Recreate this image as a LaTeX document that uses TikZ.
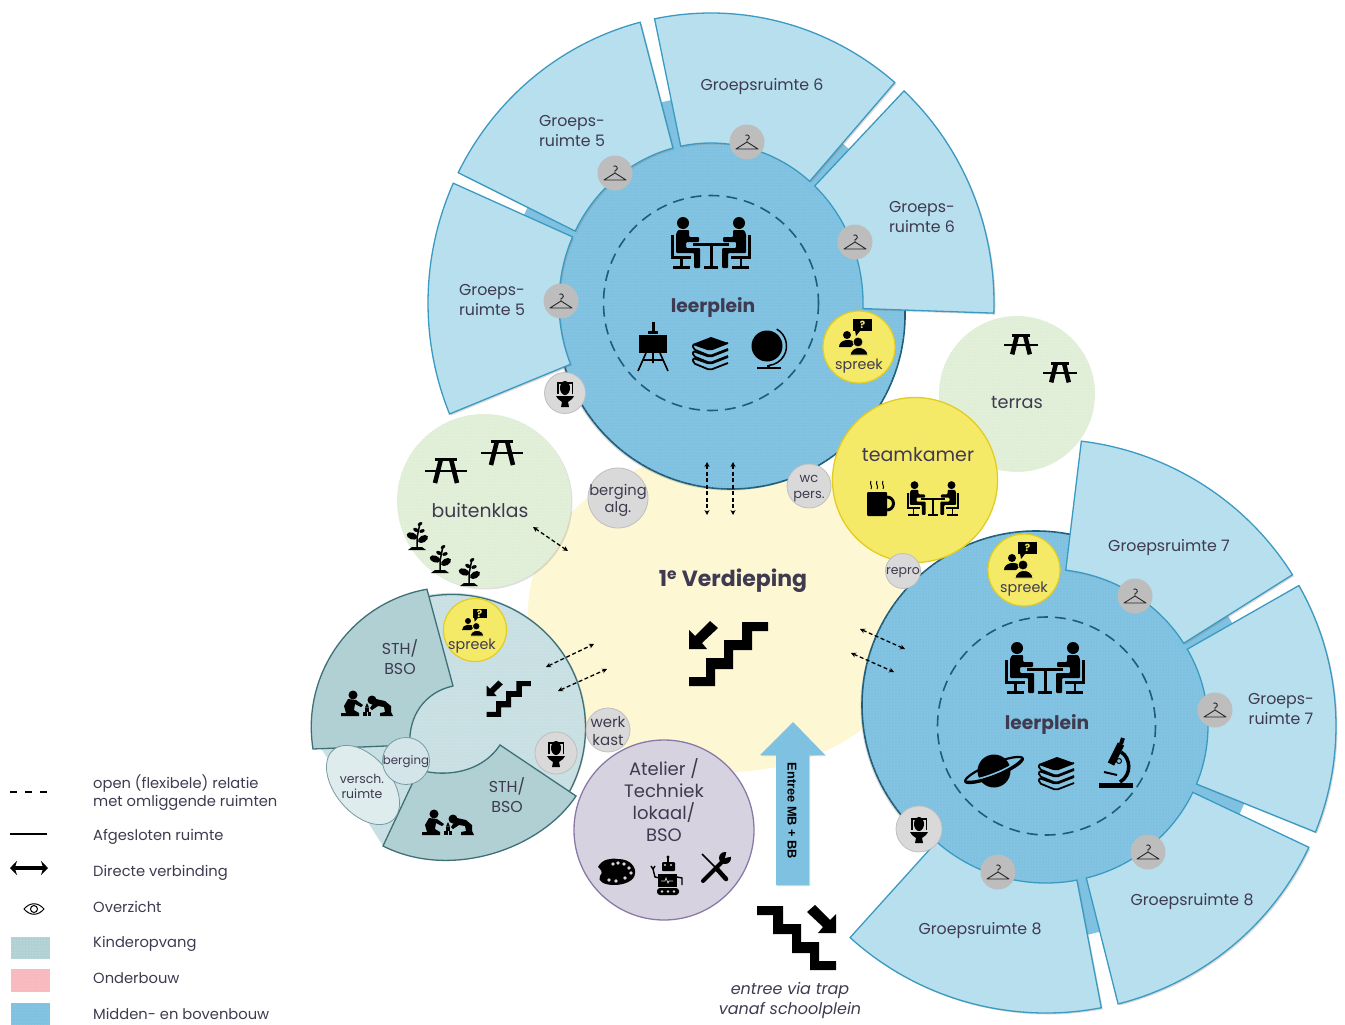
\documentclass[tikz,border=0pt]{standalone}
\usepackage{fontspec}
\setmainfont{Poppins}
\newfontfamily\arrowfont{Liberation Sans}
\usetikzlibrary{calc,patterns,shadows,arrows.meta}

\definecolor{cream}{HTML}{FDF8D3}
\definecolor{roomblue}{HTML}{B7DFEE}
\definecolor{roomline}{HTML}{3B9AC2}
\definecolor{diskblue}{HTML}{7FC1E0}
\definecolor{diskdot}{HTML}{A8D6EC}
\definecolor{diskline}{HTML}{1D5D78}
\definecolor{kidlight}{HTML}{C8DFE3}
\definecolor{kiddark}{HTML}{B0D0D3}
\definecolor{kidline}{HTML}{3E7078}
\definecolor{kiddot}{HTML}{DCEDEF}
\definecolor{green}{HTML}{E2EFD9}
\definecolor{greendot}{HTML}{D5E7C8}
\definecolor{sunny}{HTML}{F5EA68}
\definecolor{sunnyline}{HTML}{E3CC22}
\definecolor{lilac}{HTML}{D7D2E0}
\definecolor{lilacline}{HTML}{8A79A8}
\definecolor{inktext}{HTML}{3F3A50}
\definecolor{pinkbox}{HTML}{F7B9BE}

\tikzset{
  label16/.style={text=inktext,align=center,inner sep=0pt,font=\fontsize{15.8}{20}\selectfont},
  label14/.style={text=inktext,align=center,inner sep=0pt,font=\fontsize{14.3}{16}\selectfont},
  legendtext/.style={text=inktext,align=left,anchor=west,inner sep=0pt,font=\fontsize{14.7}{18}\selectfont},
  boldlabel/.style={text=inktext,inner sep=0pt,font=\fontsize{18.7}{20}\selectfont\bfseries},
  roomshape/.style={draw=roomline,line width=1.3pt,fill=roomblue,drop shadow={shadow xshift=1.5pt,shadow yshift=-1.5pt,opacity=.3}},
  diskshape/.style={draw=diskline,line width=1.6pt,fill=diskblue,drop shadow={shadow xshift=-1.5pt,shadow yshift=-1.5pt,opacity=.3},postaction={pattern=dots,pattern color=diskdot}},
  kidshape/.style={draw=kidline,line width=1.3pt,fill=kiddark},
  innerring/.style={diskline,dash pattern=on 11pt off 7pt,line width=1.6pt},
  spot/.style={circle,draw=black!25,fill=black!15,line width=.8pt,inner sep=0pt},
  coatspot/.style={circle,fill=black!26,inner sep=0pt,minimum size=35pt},
  spreekspot/.style={circle,draw=sunnyline,fill=sunny,line width=1.2pt,inner sep=0pt,minimum size=70pt},
  greenspot/.style={circle,fill=green,inner sep=0pt,postaction={pattern=dots,pattern color=greendot}},
  openlink/.style={dash pattern=on 4pt off 2.5pt,line width=1.3pt,{Stealth[length=5pt,width=5pt]}-{Stealth[length=5pt,width=5pt]}},
  hangerpic/.pic={
    \draw[line width=.9pt,line join=round,black!85] (-11,7)--(0,0)--(11,7)--cycle;
    \draw[line width=.9pt,black!85] (0,0)--(0,-2.5) arc[start angle=90,end angle=-130,radius=2.3];
  },
  tablepic/.pic={
    \foreach \s in {-1,1}{% one person with a chair, and the same again mirrored
      \begin{scope}[xscale=\s]
        \fill (28,-21) circle (6);
        \fill[rounded corners=1pt] (22,-14)--(33,-14)--(35,-10)--(35,9)--(17,9)--(17,24)--(11,24)--(11,4)--(25,4)--(25,-2)--(12,-2)--(12,-7)--(22,-7)--cycle;
        \fill (37,-9) rectangle (40,15);
        \fill (20,12) rectangle (40,15);
        \fill (28.5,15) rectangle (31,22);
        \fill (21,22) rectangle (38,25);
      \end{scope}
    }
    \fill (-18,-1) rectangle (18,2);
    \fill (-1.5,2) rectangle (1.5,22);
    \fill (-7,22) rectangle (7,25);
  },
  easelpic/.pic={
    \fill (-1.5,-25) rectangle (1.5,-14);
    \fill (-5,-16) rectangle (5,-13);
    \fill (-14,-12) rectangle (14,6);
    \draw[line width=1.6pt] (-7,6)--(-15,24) (7,6)--(15,24) (0,6)--(0,16) (-10,13)--(10,13);
  },
  bookspic/.pic={
    \fill (-17,-8)--(1,-15)--(18,-9)--(0,-2)--cycle;
    \foreach \y in {0,7,14}{% the stack
      \draw[line width=1.8pt,rounded corners=2pt] (18,{-9+\y})--(0,{-2+\y})--(-17,{-8+\y})--(-17,{-3+\y})--(0,{4+\y})--(18,{-3+\y});
    }
  },
  globepic/.pic={
    \fill (-3,-1) circle (15.5);
    \draw[line width=1.5pt] (-3,-1) ++(-60:19.5) arc[start angle=-60,end angle=85,radius=19.5];
    \fill (-3,18) rectangle (0,21);
    \fill (-13,20) rectangle (11,22);
  },
  saturnpic/.pic={
    \draw[line width=2.2pt,rotate=22] (0,0) ellipse (31 and 6.5);
    \fill (0,1) circle (16.5);
    \draw[rotate=22,diskblue,line width=2.2pt] (-18,2.5) .. controls (-8,4.2) and (8,4.2) .. (18,2.5);
    \draw[rotate=22,line width=2.4pt] (-31,0) .. controls (-20,7.5) and (20,7.5) .. (31,0);
  },
  microscopepic/.pic={
    \fill (-17.5,20) rectangle (17,25);
    \draw[line width=7pt] (5,-19)--(-5,1);
    \draw[line width=4pt] (7,-25)--(5,-19);
    \draw[line width=3.5pt] (5,-11) .. controls (15,-5) and (16,12) .. (4,19);
    \draw[line width=2pt] (-12,9)--(1,12);
    \filldraw[fill=diskblue,draw=black,line width=1pt] (3,-2) circle (2.5);
  },
  toiletpic/.pic={
    \fill (-8,-11) rectangle (8,-9.5);
    \fill (-8,-11) rectangle (-6.5,1);
    \fill (6.5,-11) rectangle (8,1);
    \fill (0,-5) ellipse (5 and 7);
    \fill (-9,3)--(9,3)--(7,6)--(3,9)--(4,14)--(-4,14)--(-3,9)--(-7,6)--cycle;
  },
  spreekpic/.pic={
    \fill (-6,-28) rectangle (13,-16);
    \fill (-4,-17) -- (1,-16) -- (-3,-11) -- cycle;
    \node[text=sunny,inner sep=0pt,font=\fontsize{10}{10}\selectfont\bfseries] (qmark) at (3.5,-22) {?};
    \fill (-12,-12) circle (4);
    \fill (-20,0) .. controls (-20,-8) and (-7,-9) .. (-4,-4) -- (-8,0) -- cycle;
    \filldraw[draw=sunny,fill=black,line width=.8pt] (-1,-5) circle (5);
    \filldraw[draw=sunny,fill=black,line width=.8pt] (-9,8) .. controls (-8,-2) and (8,-2) .. (9,8) -- cycle;
  },
  picnicpic/.pic={
    \draw[line width=3.5pt] (-11,-10.5)--(11,-10.5);
    \draw[line width=2.4pt] (-21,1)--(21,1);
    \draw[line width=4.5pt] (-5,-11)--(-11,13) (5,-11)--(11,13);
  },
  plantpic/.pic={
    \draw[line width=1.5pt] (0,13)--(0,2)--(3,-13);
    \fill (-9,14)--(9,14)--(5,11)--(-5,11)--cycle;
    \foreach \x/\y/\r/\a in {-5/0/-20/5.5,6/3/30/5.5,-1/-6/-30/3,5/-5/20/2.8,3/-12/30/2.6}{% leaves on the stem
      \fill[shift={(\x,\y)},rotate=\r] (0,0) ellipse ({\a} and {\a*.62});
    }
  },
  stairspic/.pic={
    \fill (13,-32)--(39,-32)--(39,-23)--(23,-23)--(23,-4)--(4,-4)--(4,15)--(-14,15)--(-14,32)--(-40,32)--(-40,23)--(-23,23)--(-23,4)--(-5,4)--(-5,-14)--(13,-14)--cycle;
    \fill (-40,-5)--(-40,-24)--(-34,-18)--(-19,-33)--(-11,-26)--(-27,-11)--(-22,-5)--cycle;
  },
  kidspic/.pic={
    \fill (-14,-8) circle (4.5);
    \fill (-19,-4)--(-11,-3)--(-4,2)--(-6,4)--(-12,1)--(-13,7)--(-8,10)--(-8,13)--(-26,13)--(-26,10)--(-21,10)--(-23,3)--cycle;
    \fill (5,-3) circle (4.5);
    \fill (9,-4)--(18,-2)--(24,3)--(24,9)--(26,13)--(13,13)--(13,10)--(18,9)--(17,4)--(11,3)--(5,7)--(3,5)--cycle;
    \fill (-4,9) rectangle (-.5,13);
    \fill (.5,9) rectangle (4,13);
    \fill (-2,5) rectangle (2,8.5);
    \fill (-2,4.5)--(2,4.5)--(0,0)--cycle;
  },
  cuppic/.pic={
    \fill[rounded corners=1pt] (-14,-9) rectangle (6,15);
    \draw[line width=3pt] (6,-4) arc[start angle=-90,end angle=90,radius=6.5];
    \foreach \x in {-10,-4,2}{\draw[line width=1pt] (\x,-12) .. controls ({\x+2},-15) and ({\x-2},-17) .. (\x,-20);}
  },
  palettepic/.pic={
    \fill (-18,-6) .. controls (-14,-14) and (-5,-15) .. (2,-14) .. controls (15,-14) and (20,-5) .. (19,0)
      .. controls (19,8) and (8,12) .. (-2,12) .. controls (-12,12) and (-19,8) .. (-16,3)
      .. controls (-12,-1) and (-16,-4) .. (-18,-6) -- cycle;
    \foreach \x/\y in {-3/-9,2/-10,8/-9,13/-5,15/0,9/5,0/8,-7/7}{\fill[lilac] (\x,\y) circle (1.9);}
  },
  robotpic/.pic={
    \fill (0,-18) circle (1.6);
    \fill (-1,-17) rectangle (1,-13);
    \fill[rounded corners=1pt] (-6,-13) rectangle (7,-4);
    \fill[lilac] (-3,-10) circle (1.2) (3,-10) circle (1.2);
    \fill (-10,-1) rectangle (9,12);
    \draw[lilac,line width=.7pt] (-7,6)--(-3,6)--(-2,3)--(0,8)--(1,6)--(5,6);
    \draw[line width=1.4pt] (-8,3)--(-13,2)--(-15,-6) (-15,-6)--(-17,-9) (-15,-6)--(-13,-9) (9,2)--(14,3)--(14,10);
    \fill[rounded corners=3pt] (-11,13) rectangle (11,20);
    \fill[lilac] (-6,16.5) circle (1.3) (0,16.5) circle (1.3) (6,16.5) circle (1.3);
  },
  toolspic/.pic={
    \draw[line width=1.5pt] (-13,-13)--(1,1);
    \draw[line width=4.5pt,line cap=round] (2,2)--(11,12);
    \draw[line width=4pt,line cap=round] (-12,14)--(8,-6);
    \fill (10,-9) circle (6);
    \fill[lilac] (10,-9)--(12,-17)--(18,-11)--cycle;
  },
  eyepic/.pic={
    \draw[line width=1pt] (-10,0) .. controls (-4,-7) and (4,-7) .. (10,0) .. controls (4,7) and (-4,7) .. (-10,0) -- cycle;
    \draw[line width=1pt] (0,0) circle (3.5);
  }
}

\begin{document}
\begin{tikzpicture}[x=1pt,y=-1pt]
  \useasboundingbox (0,0) rectangle (1345,1025);
  \coordinate (topc) at (711,303);
  \coordinate (lowc) at (1046,726);

  % cream floor and the circles behind it
  \fill[cream] (727,612) ellipse (199 and 160);
  \node[greenspot,minimum size=156pt] (terras) at (1017,394) {};
  \node[greenspot,minimum size=174pt,drop shadow={shadow xshift=1.5pt,shadow yshift=-1.5pt,opacity=.25}] (buitenklas) at (484,501) {};

  % top cluster
  \draw[diskshape] (731,315) circle (174);
  \fill[diskblue,postaction={pattern=dots,pattern color=diskdot}] (topc) ellipse (152 and 160);
  \foreach \a in {205.4,257,311.5}{% corridor between two rooms
    \fill[diskblue] ($(topc)+(\a-3:150)$)--($(topc)+(\a-3:207)$)--($(topc)+(\a+3:207)$)--($(topc)+(\a+3:150)$)--cycle;
  }
  \foreach \a/\b in {157.5/204.4,206.7/255.5,258.5/310.5,313/362}{% the four rooms
    \draw[roomshape] ($(topc)+(\a:283 and 290)$) arc[start angle=\a,end angle=\b,x radius=283,y radius=290]
      -- ($(topc)+(\b:152 and 160)$) arc[start angle=\b,end angle=\a,x radius=152,y radius=160] -- cycle;
  }

  % lower right cluster
  \draw[diskshape] (1036,705) circle (174);
  \fill[diskblue,postaction={pattern=dots,pattern color=diskdot}] (lowc) ellipse (162 and 157);
  \foreach \a in {329.5,384,76.5}{% corridor between two rooms
    \fill[diskblue] ($(lowc)+(\a-3:155)$)--($(lowc)+(\a-3:213)$)--($(lowc)+(\a+3:213)$)--($(lowc)+(\a+3:155)$)--cycle;
  }
  \foreach \a/\b in {277/328.2,330.7/381.7,385/435.6,439/492.5}{% the four rooms
    \draw[roomshape] ($(lowc)+(\a:290 and 287)$) arc[start angle=\a,end angle=\b,x radius=290,y radius=287]
      -- ($(lowc)+(\b:162 and 157)$) arc[start angle=\b,end angle=\a,x radius=162,y radius=157] -- cycle;
  }

  % inner dashed circles
  \draw[innerring] (topc) circle (107.5);
  \draw[innerring] (1046.5,726) circle (109);

  % kinderopvang
  \fill[kidlight,drop shadow={shadow xshift=2pt,shadow yshift=-1.5pt,opacity=.3},postaction={pattern=dots,pattern color=kiddot}]
    (319,745) arc[start angle=172,end angle=400,radius=133.5] -- (383,846) -- cycle;
  \draw[kidline,line width=1.3pt] (452,728) ++(260:133.5) arc[start angle=260,end angle=400,radius=133.5];
  \draw[kidshape] (313,749) arc[start angle=171,end angle=260,radius=140] -- (453,686)
    .. controls (425,692) and (408,716) .. (410,745) -- cycle;
  \draw[kidshape] (500,745) -- (576,796) .. controls (540,850) and (450,880) .. (383,846) -- (413,782)
    -- (413,768) .. controls (440,778) and (480,775) .. (500,745) -- cycle;
  \draw[draw=kidline!70,fill=kidlight!60!white,line width=.8pt,rotate around={-50:(363,785)}] (363,785) ellipse (46 and 28);
  \node[spot,draw=kidline!70,fill=kidlight!80!white,minimum size=47pt] (bergingk) at (406,761) {};
  \node[label14,font=\fontsize{11.8}{13}\selectfont] (bergingtxt) at (406,762) {berging};
  \node[label14,font=\fontsize{12.5}{15}\selectfont] (versch) at (362,786) {versch.\\ruimte};
  \node[label16] (sthone) at (400,657.5) {STH/\\BSO};
  \node[label16] (sthtwo) at (507,795.5) {STH/\\BSO};
  \pic at (367,703) {kidspic};
  \pic at (448,822) {kidspic};
  \pic[scale=.56] at (509,699) {stairspic};
  \node[spreekspot,minimum size=63pt] (spreekk) at (475,630) {};
  \pic[scale=.75] at (477,630) {spreekpic};
  \node[label14] (spreekktxt) at (472,646) {spreek};
  \node[spot,minimum size=42pt] (toiletk) at (556,753) {};
  \pic at (556,753) {toiletpic};

  % teamkamer, small rooms
  \node[circle,draw=sunnyline,fill=sunny,line width=1.3pt,inner sep=0pt,minimum size=165pt] (teamkamer) at (915,480) {};
  \node[label16,font=\fontsize{19}{20}\selectfont] (teamtxt) at (918,455) {teamkamer};
  \pic at (881,501) {cuppic};
  \pic[scale=.66] at (933,499) {tablepic};
  \node[spot,minimum size=60pt] (bergalg) at (618,498) {};
  \node[label14,font=\fontsize{14.7}{17}\selectfont] (bergalgtxt) at (618,500) {berging\\alg.};
  \node[spot,minimum size=44pt] (wcpers) at (809,486) {};
  \node[label14,font=\fontsize{13}{16}\selectfont] (wctxt) at (809,488.5) {wc\\pers.};
  \node[spot,minimum size=35pt] (repro) at (903,571) {};
  \node[label14,font=\fontsize{12.5}{14}\selectfont] (reprotxt) at (903,572.5) {repro};
  \node[spot,minimum size=44pt] (werkkast) at (608,730) {};
  \node[label14,font=\fontsize{15}{18}\selectfont] (werktxt) at (608,731) {werk\\kast};

  % atelier
  \node[circle,draw=lilacline,fill=lilac,line width=1.3pt,inner sep=0pt,minimum size=180pt] (atelier) at (664,830) {};
  \node[label16,font=\fontsize{18}{22}\selectfont] (ateliertxt) at (664,800) {Atelier /\\Techniek\\lokaal/\\BSO};
  \pic at (616,873) {palettepic};
  \pic at (668,875) {robotpic};
  \pic at (715,867) {toolspic};

  % entree
  \draw[fill=diskblue,draw=none,drop shadow={shadow xshift=1pt,shadow yshift=-1pt,opacity=.3}] (793,722)--(825,755)--(809,755)--(809,885)--(776,885)--(776,755)--(760,755)--cycle;
  \node[rotate=-90,inner sep=0pt,font=\arrowfont\fontsize{12.8}{15}\selectfont\bfseries] (entreetxt) at (792,811) {Entree MB + BB};
  \pic[xscale=-1] at (796,938) {stairspic};
  \node[label16,font=\fontsize{16}{20}\selectfont\itshape] (entreevia) at (790,1000) {entree via trap\\vanaf schoolplein};

  % hangers
  \foreach \n/\x/\y in {ha/561/301,hb/615/173,hc/747/142,hd/855/242,he/1135/596,hf/1215/710,hg/1148/852,hh/998/872}{
    \node[coatspot] (\n) at (\x,\y) {};
    \pic at (\x,\y) {hangerpic};
  }

  % spreek, toilets
  \node[spreekspot,minimum size=72pt] (spreeka) at (859,347) {};
  \pic at (859,347) {spreekpic};
  \node[label14] (spreekatxt) at (859,366) {spreek};
  \node[spreekspot,minimum size=72pt] (spreekb) at (1024,570) {};
  \pic at (1024,570) {spreekpic};
  \node[label14] (spreekbtxt) at (1024,589) {spreek};
  \node[spot,minimum size=41pt] (toileta) at (565,393) {};
  \pic at (565,393) {toiletpic};
  \node[spot,minimum size=46pt] (toiletb) at (919,829) {};
  \pic at (919,829) {toiletpic};

  % room labels
  \node[label16] (groepa) at (492,299.5) {Groeps-\\ruimte 5};
  \node[label16] (groepb) at (572,131.5) {Groeps-\\ruimte 5};
  \node[label16] (groepc) at (762,87) {Groepsruimte 6};
  \node[label16] (groepd) at (922,217) {Groeps-\\ruimte 6};
  \node[label16] (groepe) at (1169,548) {Groepsruimte 7};
  \node[label16] (groepf) at (1281,709) {Groeps-\\ruimte 7};
  \node[label16] (groepg) at (1192,902) {Groepsruimte 8};
  \node[label16] (groeph) at (980,931) {Groepsruimte 8};
  \node[boldlabel] (pleina) at (713,307) {leerplein};
  \node[boldlabel] (pleinb) at (1047,724) {leerplein};
  \node[boldlabel,font=\fontsize{22}{24}\selectfont\bfseries] (verdieping) at (733,581) {1\textsuperscript{e} Verdieping};
  \node[label16,font=\fontsize{17.7}{20}\selectfont] (terrastxt) at (1017,403) {terras};
  \node[label16,font=\fontsize{18.8}{20}\selectfont] (buitentxt) at (480,510) {buitenklas};

  % icons
  \pic at (711,244) {tablepic};
  \pic at (1045,669) {tablepic};
  \pic at (653,347) {easelpic};
  \pic at (710,352) {bookspic};
  \pic at (770,347) {globepic};
  \pic at (994,770) {saturnpic};
  \pic at (1056,772) {bookspic};
  \pic at (1116,763) {microscopepic};
  \pic at (729,654) {stairspic};
  \pic at (502,452) {picnicpic};
  \pic at (446,470) {picnicpic};
  \pic[scale=.8] at (1021,344) {picnicpic};
  \pic[scale=.8] at (1060,372) {picnicpic};
  \pic at (417,536) {plantpic};
  \pic at (440,559) {plantpic};
  \pic at (469,572) {plantpic};

  % open relations
  \foreach \n/\xa/\ya/\xb/\yb in {vlinka/707/462/707/515,vlinkb/733/462/733/515,blink/533/527/568/551,
      klinka/546/667/594/644,klinkb/558/691/607/669,rlinka/860/629/905/649,rlinkb/851/653/894/672}{
    \coordinate (\n s) at (\xa,\ya);
    \coordinate (\n e) at (\xb,\yb);
    \draw[openlink] (\n s) -- (\n e);
  }

  % legend
  \coordinate (lega) at (10,792);  \coordinate (legb) at (47,792);
  \coordinate (legc) at (10,834);  \coordinate (legd) at (47,834);
  \coordinate (lege) at (10,868);  \coordinate (legf) at (48,868);
  \draw[line width=1.2pt,dash pattern=on 7pt off 8pt] (lega) -- (legb);
  \draw[line width=1.2pt] (legc) -- (legd);
  \draw[line width=4.5pt,{Stealth[length=7pt,width=14pt]}-{Stealth[length=7pt,width=14pt]}] (lege) -- (legf);
  \pic at (34,909) {eyepic};
  \fill[kiddark,postaction={pattern=dots,pattern color=kiddot}] (11,937) rectangle (50,959);
  \fill[pinkbox,postaction={pattern=dots,pattern color=pinkbox!60!white}] (11,969) rectangle (50,992);
  \fill[diskblue,postaction={pattern=dots,pattern color=diskdot}] (11,1003) rectangle (50,1025);
  \node[legendtext] (lopen) at (93,792.5) {open (flexibele) relatie\\met omliggende ruimten};
  \node[legendtext] (ldicht) at (93,836.5) {Afgesloten ruimte};
  \node[legendtext] (ldirect) at (93,872.5) {Directe verbinding};
  \node[legendtext] (loverz) at (93,907) {Overzicht};
  \node[legendtext] (lkind) at (93,943.5) {Kinderopvang};
  \node[legendtext] (londer) at (93,978.5) {Onderbouw};
  \node[legendtext] (lmidden) at (93,1014) {Midden- en bovenbouw};
\end{tikzpicture}
\end{document}
